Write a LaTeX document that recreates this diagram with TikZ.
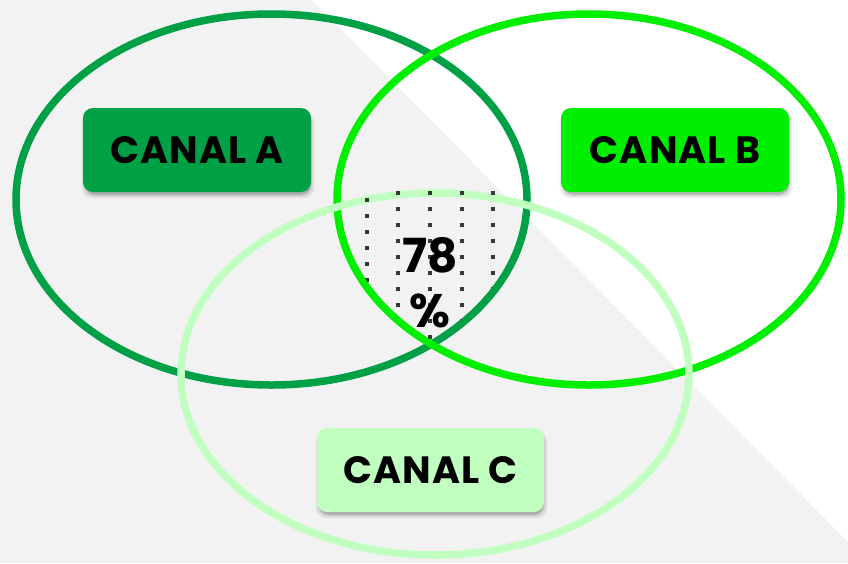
\documentclass[tikz,border=0pt]{standalone}
\usepackage{fontspec}
\setmainfont{Poppins}
\usetikzlibrary{shadows}
\definecolor{gA}{RGB}{0,160,70}
\definecolor{gB}{RGB}{0,238,0}
\definecolor{gC}{RGB}{192,255,192}
\definecolor{bgray}{RGB}{242,242,242}
\definecolor{dotc}{RGB}{55,55,55}
\tikzset{
  ring/.style={line width=7.5pt},
  canal/.style={rounded corners=10pt, minimum width=228pt, minimum height=84pt,
    inner sep=0pt, font=\fontsize{38}{42}\selectfont\bfseries\addfontfeature{LetterSpace=3}, text=black,
    drop shadow={shadow xshift=1pt, shadow yshift=-5pt, opacity=0.08, fill=black, shadow scale=1.02},
    drop shadow={shadow xshift=1pt, shadow yshift=-4pt, opacity=0.10, fill=black},
    drop shadow={shadow xshift=1pt, shadow yshift=-3pt, opacity=0.14, fill=black, shadow scale=0.99}},
  dotmark/.style={fill=dotc}
}
\begin{document}
\begin{tikzpicture}[x=1pt,y=-1pt]
\useasboundingbox (0,0) rectangle (848,563);
\fill[white] (0,0) rectangle (848,563);
\fill[bgray] (0,0) -- (312,0) -- (848,542) -- (848,563) -- (0,563) -- cycle;
\coordinate (cA) at (271.5,199.5);
\coordinate (cB) at (589,199.5);
\coordinate (cC) at (435,374);
\draw[ring, gA] (cA) ellipse [x radius=255.5, y radius=185.5];
\draw[ring, gB] (cB) ellipse [x radius=252, y radius=185.5];
\draw[ring, gC] (cC) ellipse [x radius=254, y radius=181];
\begin{scope}
  \clip (cA) ellipse [x radius=252, y radius=182];
  \clip (cB) ellipse [x radius=248.5, y radius=182];
  \clip (355,188) rectangle (505,345);
  \foreach \x in {398,430,462,493}{
    \foreach \y in {193,209,...,345}{
      \fill[dotmark] (\x-1.7,\y-1.7) rectangle ++(3.4,3.4);
    }
  }
  \foreach \y in {200,216,...,345}{
    \fill[dotmark] (367-1.7,\y-1.7) rectangle ++(3.4,3.4);
  }
\end{scope}
\node[canal, fill=gA] (boxA) at (197,150) {CANAL A};
\node[canal, fill=gB] (boxB) at (675,150) {CANAL B};
\node[canal, fill=gC, minimum width=227pt] (boxC) at (430.5,470) {CANAL C};
\node[align=center, font=\fontsize{47}{55}\selectfont\bfseries, inner sep=0pt] (pct) at (430,283) {78\\\%};
\end{tikzpicture}
\end{document}
